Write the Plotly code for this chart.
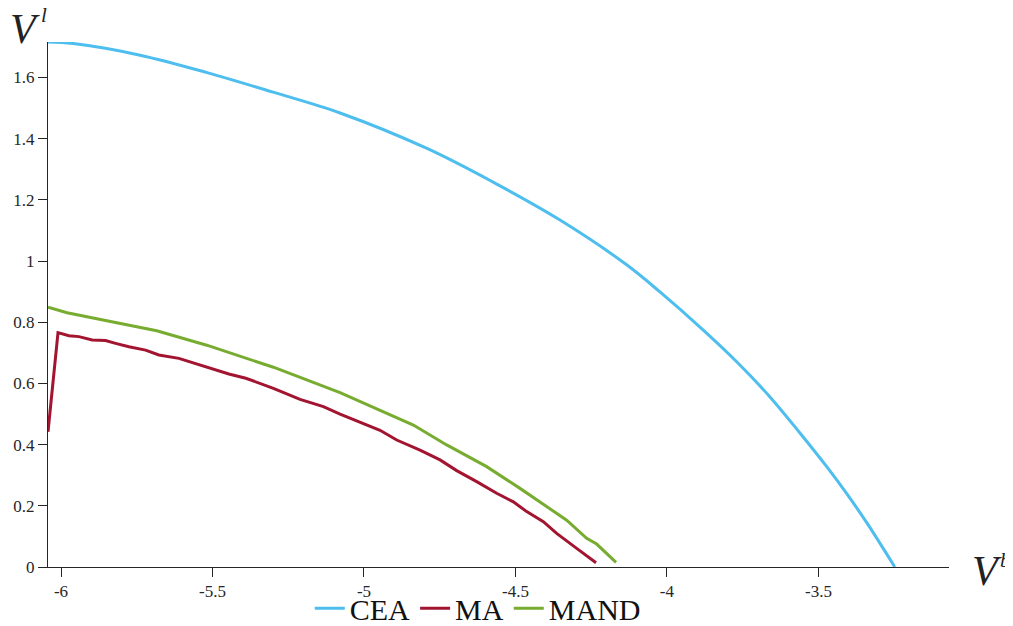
import plotly.graph_objects as go

# CEA curve
cea_x = [-6.043, -5.960, -5.739, -5.518, -5.300, -5.079, -4.792, -4.574, -4.353,
         -4.132, -4.023, -3.881, -3.769, -3.660, -3.561, -3.472, -3.406, -3.340, -3.248]
cea_y = [1.716, 1.711, 1.673, 1.616, 1.552, 1.484, 1.368, 1.258, 1.134,
         0.987, 0.899, 0.775, 0.670, 0.556, 0.438, 0.327, 0.239, 0.144, 0.0]

# MA curve
ma_x = [-6.043, -6.010, -5.974, -5.941, -5.897, -5.853, -5.820, -5.776, -5.721,
        -5.677, -5.611, -5.567, -5.501, -5.446, -5.390, -5.299, -5.211, -5.134,
        -5.079, -4.991, -4.947, -4.892, -4.815, -4.749, -4.694, -4.628, -4.562,
        -4.507, -4.463, -4.408, -4.364, -4.298, -4.234]
ma_y = [0.442, 0.766, 0.756, 0.753, 0.742, 0.740, 0.731, 0.720, 0.709,
        0.693, 0.682, 0.668, 0.649, 0.631, 0.617, 0.584, 0.548, 0.524,
        0.500, 0.464, 0.447, 0.415, 0.382, 0.350, 0.315, 0.279, 0.241,
        0.213, 0.181, 0.148, 0.110, 0.061, 0.014]

# MAND curve
mand_x = [-6.043, -5.980, -5.849, -5.684, -5.519, -5.299, -5.079, -4.947, -4.837,
          -4.727, -4.595, -4.485, -4.397, -4.331, -4.265, -4.232, -4.168]
mand_y = [0.849, 0.831, 0.805, 0.772, 0.725, 0.653, 0.570, 0.511, 0.464,
          0.399, 0.328, 0.257, 0.197, 0.153, 0.094, 0.075, 0.015]

x_tickvals = [-6, -5.5, -5, -4.5, -4, -3.5]
x_ticktext = ["-6", "-5.5", "-5", "-4.5", "-4", "-3.5"]
y_tickvals = [0, 0.2, 0.4, 0.6, 0.8, 1.0, 1.2, 1.4, 1.6]
y_ticktext = ["0", "0.2", "0.4", "0.6", "0.8", "1", "1.2", "1.4", "1.6"]

FONT = "Liberation Serif"

fig = go.Figure()
fig.add_trace(go.Scatter(x=cea_x, y=cea_y, mode="lines", name="CEA",
                         line=dict(color="#4dbeee", width=3, shape="spline", smoothing=1.0)))
fig.add_trace(go.Scatter(x=ma_x, y=ma_y, mode="lines", name="MA",
                         line=dict(color="#a2142f", width=3)))
fig.add_trace(go.Scatter(x=mand_x, y=mand_y, mode="lines", name="MAND",
                         line=dict(color="#77ac30", width=3)))

def label(text, x, y, size):
    return dict(text="<i>" + text + "</i>", xref="paper", yref="paper",
                x=x, y=y, xanchor="center", yanchor="middle", showarrow=False,
                font=dict(family=FONT, size=size, color="#222222"))

# page body adds an 8px offset, so the figure is 8px smaller each way
fig.update_layout(
    width=1005, height=618,
    margin=dict(l=40, r=64, t=34, b=59, autoexpand=False),
    paper_bgcolor="white", plot_bgcolor="white",
    font=dict(family=FONT, color="#262626"),
    showlegend=True,
    legend=dict(orientation="h", x=0.477, xanchor="center",
                y=-0.029, yanchor="top",
                font=dict(family=FONT, size=30, color="#111111"),
                itemwidth=30, tracegroupgap=0, bgcolor="rgba(0,0,0,0)"),
    xaxis=dict(range=[-6.043, -3.069], tickvals=x_tickvals, ticktext=x_ticktext,
               showgrid=False, zeroline=False, showline=True, linecolor="#262626",
               linewidth=1, ticks="outside", ticklen=9, tickcolor="#262626",
               automargin=False,
               tickfont=dict(family=FONT, size=17, color="#262626")),
    yaxis=dict(range=[0, 1.716], tickvals=y_tickvals, ticktext=y_ticktext,
               showgrid=False, zeroline=False, showline=True, linecolor="#262626",
               linewidth=1, ticks="outside", ticklen=9, tickcolor="#262626",
               automargin=False,
               tickfont=dict(family=FONT, size=17, color="#262626")),
    annotations=[
        label("V", -0.0255, 1.0248, 42),
        label("l", -0.0044, 1.0514, 21),
        label("V", 1.0422, -0.0076, 42),
        label("b", 1.0622, 0.0133, 21),
    ],
)

fig.write_html("out.html")
